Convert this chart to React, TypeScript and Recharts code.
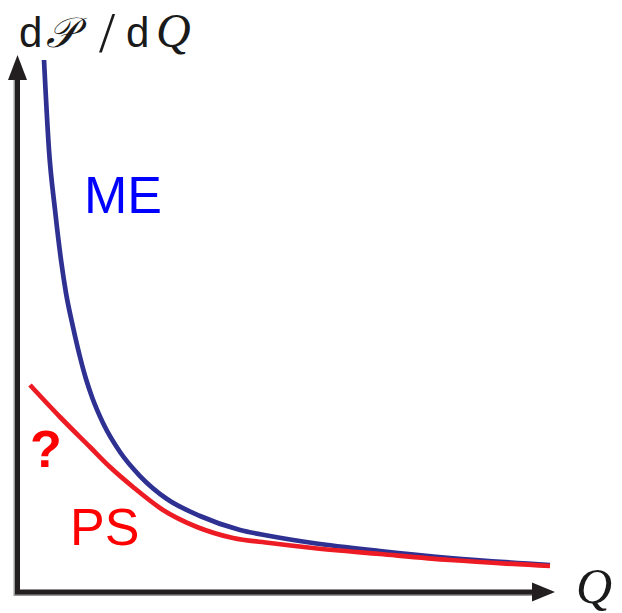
import React from "react";
import { LineChart, Line, XAxis, YAxis, Customized } from "recharts";

// Marginal distribution curves, dP/dQ versus Q (arbitrary units 0–100)
const meQ = [4.86, 5.79, 6.92, 8.04, 8.97, 10.28, 11.59, 12.71, 13.83, 15.89, 19.07, 22.8, 27.85, 34.02, 41.5, 47.1, 55.14, 67.66, 80.75, 99.44];
const meDensity = [99.44, 82.62, 71.4, 62.06, 55.89, 49.53, 43.93, 39.81, 36.45, 31.59, 26.17, 21.68, 17.38, 14.21, 11.59, 10.47, 9.16, 7.66, 6.36, 5.05];

const psQ = [2.24, 7.85, 13.46, 17.2, 21.5, 27.1, 33.46, 40.19, 47.1, 55.14, 67.66, 80.75, 99.44];
const psDensity = [38.69, 32.71, 27.1, 23.36, 19.63, 15.33, 12.15, 10.09, 9.16, 8.22, 7.1, 5.98, 4.86];

const seriesNames = { me: "ME", ps: "PS" };
const unknownMark = "?";

const meData = meQ.map((q, i) => ({ q, v: meDensity[i] }));
const psData = psQ.map((q, i) => ({ q, v: psDensity[i] }));

const W = 622;
const H = 613;
const MARGIN = { top: 57, right: 69, bottom: 21, left: 18 };

const BLUE_LINE = "#2e3192";
const RED_LINE = "#ed1c24";
const AXIS = "#231f20";

// Axis arrows plus the in-plot annotations
const Decorations = () => {
  const left = MARGIN.left - 0.5;
  const bottom = H - MARGIN.bottom;
  const right = W - MARGIN.right;
  const top = MARGIN.top;
  const sans = "'Liberation Sans', Arial, sans-serif";
  const serif = "'Liberation Serif', 'DejaVu Serif', serif";
  return (
    <g>
      {/* soft shadow under the axes */}
      <path
        d={`M ${left - 1.5} ${top + 22} L ${left - 1.5} ${bottom + 1.5} L ${right - 20} ${bottom + 1.5}`}
        stroke="#9a9a9a"
        strokeWidth={5}
        fill="none"
      />
      <path
        d={`M ${left} ${top + 22} L ${left} ${bottom} L ${right - 20} ${bottom}`}
        stroke={AXIS}
        strokeWidth={5}
        fill="none"
        strokeLinejoin="miter"
      />
      <polygon
        points={`${left},${top - 2} ${left - 9.5},${top + 23} ${left + 9.5},${top + 23}`}
        fill={AXIS}
      />
      <polygon
        points={`${right + 2},${bottom} ${right - 21},${bottom - 9.5} ${right - 21},${bottom + 9.5}`}
        fill={AXIS}
      />
      <text y={47} fontSize={42} fill="#1a1a1a">
        <tspan x={19} fontFamily={sans}>d</tspan>
        <tspan x={46} fontFamily={serif} fontStyle="italic">𝒫</tspan>
        <tspan x={99} y={52} fontFamily={serif} fontSize={58}>/</tspan>
        <tspan x={126} y={47} fontFamily={sans}>d</tspan>
        <tspan x={156} fontFamily={serif} fontStyle="italic" fontSize={48}>Q</tspan>
      </text>
      <text x={576} y={603} fontSize={50} fontFamily={serif} fontStyle="italic" fill="#1a1a1a">
        Q
      </text>
      <text x={84} y={213} fontSize={52} fontFamily={sans} fill="#0000ff">
        {seriesNames.me}
      </text>
      <text x={70} y={545} fontSize={52} fontFamily={sans} fill="#ff0000">
        {seriesNames.ps}
      </text>
      <text x={30} y={467} fontSize={52} fontWeight="bold" fontFamily={sans} fill="#ff0000">
        {unknownMark}
      </text>
    </g>
  );
};

export default function App() {
  return (
    <div style={{ position: "fixed", left: 0, top: 0, width: W, height: H, background: "#fff" }}>
      <LineChart width={W} height={H} margin={MARGIN}>
        <XAxis dataKey="q" type="number" domain={[0, 100]} hide allowDataOverflow />
        <YAxis dataKey="v" type="number" domain={[0, 100]} hide allowDataOverflow />
        <Line
          data={meData}
          dataKey="v"
          type="monotone"
          stroke={BLUE_LINE}
          strokeWidth={4.7}
          dot={false}
          activeDot={false}
          isAnimationActive={false}
        />
        <Line
          data={psData}
          dataKey="v"
          type="monotone"
          stroke={RED_LINE}
          strokeWidth={4.7}
          dot={false}
          activeDot={false}
          isAnimationActive={false}
        />
        <Customized component={Decorations} />
      </LineChart>
    </div>
  );
}
